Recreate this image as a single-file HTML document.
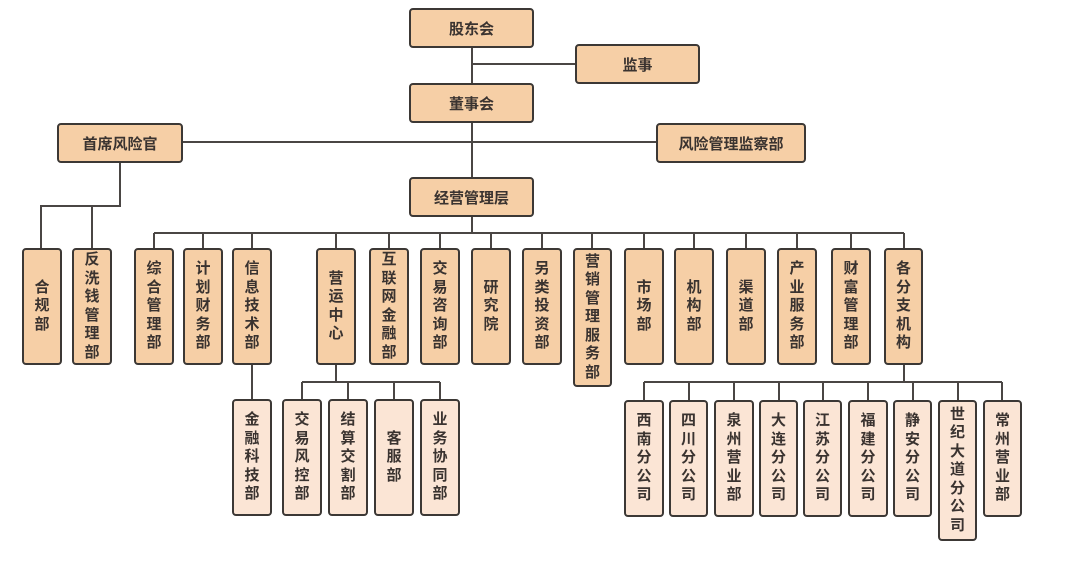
<!DOCTYPE html>
<html><head><meta charset="utf-8"><style>
body{margin:0;width:1082px;height:574px;background:#fff;position:relative;overflow:hidden;font-family:"Liberation Sans","Noto Sans CJK SC",sans-serif;}
.b{position:absolute;box-sizing:border-box;border:2px solid #3c3835;border-radius:4px;background:#f6cfa6;color:#3a3330;font-weight:bold;font-size:15px;display:flex;align-items:center;justify-content:center;text-align:center;}
.v{flex-direction:column;line-height:18.5px;font-size:15px;}
.s{background:#fbe5d5;}
svg{position:absolute;left:0;top:0;}
</style></head><body>
<svg width="1082" height="574"><g stroke="#4a4644" stroke-width="2" fill="none">
<path d="M472 48V177M472 64H575M183 142H656"/>
<path d="M120 163V206H41V248M92 206V248"/>
<path d="M154 233H904M154 233V248M203 233V248M252 233V248M336 233V248M389 233V248M440 233V248M491 233V248M542 233V248M592 233V248M644 233V248M694 233V248M746 233V248M797 233V248M851 233V248M904 233V248M472 217V233"/>
<path d="M252 365V399M336 365V382M302 382H440M302 382V399M348 382V399M394 382V399M440 382V399"/>
<path d="M904 365V382M644 382H1002M644 382V400M689 382V400M734 382V400M779 382V400M823 382V400M868 382V400M913 382V400M958 382V400M1002 382V400"/>
</g></svg>
<div class="b" style="left:409px;top:8px;width:125px;height:40px">股东会</div>
<div class="b" style="left:575px;top:44px;width:125px;height:40px">监事</div>
<div class="b" style="left:409px;top:83px;width:125px;height:40px">董事会</div>
<div class="b" style="left:57px;top:123px;width:126px;height:40px">首席风险官</div>
<div class="b" style="left:656px;top:123px;width:150px;height:40px">风险管理监察部</div>
<div class="b" style="left:409px;top:177px;width:125px;height:40px">经营管理层</div>

<div class="b v" style="left:22px;top:248px;width:40px;height:117px">合<br>规<br>部</div>
<div class="b v" style="left:72px;top:248px;width:40px;height:117px">反<br>洗<br>钱<br>管<br>理<br>部</div>
<div class="b v" style="left:134px;top:248px;width:40px;height:117px">综<br>合<br>管<br>理<br>部</div>
<div class="b v" style="left:183px;top:248px;width:40px;height:117px">计<br>划<br>财<br>务<br>部</div>
<div class="b v" style="left:232px;top:248px;width:40px;height:117px">信<br>息<br>技<br>术<br>部</div>
<div class="b v" style="left:316px;top:248px;width:40px;height:117px">营<br>运<br>中<br>心</div>
<div class="b v" style="left:369px;top:248px;width:40px;height:117px">互<br>联<br>网<br>金<br>融<br>部</div>
<div class="b v" style="left:420px;top:248px;width:40px;height:117px">交<br>易<br>咨<br>询<br>部</div>
<div class="b v" style="left:471px;top:248px;width:40px;height:117px">研<br>究<br>院</div>
<div class="b v" style="left:522px;top:248px;width:40px;height:117px">另<br>类<br>投<br>资<br>部</div>
<div class="b v" style="left:573px;top:248px;width:39px;height:139px">营<br>销<br>管<br>理<br>服<br>务<br>部</div>
<div class="b v" style="left:624px;top:248px;width:40px;height:117px">市<br>场<br>部</div>
<div class="b v" style="left:674px;top:248px;width:40px;height:117px">机<br>构<br>部</div>
<div class="b v" style="left:726px;top:248px;width:40px;height:117px">渠<br>道<br>部</div>
<div class="b v" style="left:777px;top:248px;width:40px;height:117px">产<br>业<br>服<br>务<br>部</div>
<div class="b v" style="left:831px;top:248px;width:40px;height:117px">财<br>富<br>管<br>理<br>部</div>
<div class="b v" style="left:884px;top:248px;width:39px;height:117px">各<br>分<br>支<br>机<br>构</div>

<div class="b v s" style="left:232px;top:399px;width:40px;height:117px">金<br>融<br>科<br>技<br>部</div>
<div class="b v s" style="left:282px;top:399px;width:40px;height:117px">交<br>易<br>风<br>控<br>部</div>
<div class="b v s" style="left:328px;top:399px;width:40px;height:117px">结<br>算<br>交<br>割<br>部</div>
<div class="b v s" style="left:374px;top:399px;width:40px;height:117px">客<br>服<br>部</div>
<div class="b v s" style="left:420px;top:399px;width:40px;height:117px">业<br>务<br>协<br>同<br>部</div>

<div class="b v s" style="left:624px;top:400px;width:40px;height:117px">西<br>南<br>分<br>公<br>司</div>
<div class="b v s" style="left:669px;top:400px;width:39px;height:117px">四<br>川<br>分<br>公<br>司</div>
<div class="b v s" style="left:714px;top:400px;width:40px;height:117px">泉<br>州<br>营<br>业<br>部</div>
<div class="b v s" style="left:759px;top:400px;width:39px;height:117px">大<br>连<br>分<br>公<br>司</div>
<div class="b v s" style="left:803px;top:400px;width:39px;height:117px">江<br>苏<br>分<br>公<br>司</div>
<div class="b v s" style="left:848px;top:400px;width:40px;height:117px">福<br>建<br>分<br>公<br>司</div>
<div class="b v s" style="left:893px;top:400px;width:39px;height:117px">静<br>安<br>分<br>公<br>司</div>
<div class="b v s" style="left:938px;top:400px;width:39px;height:141px">世<br>纪<br>大<br>道<br>分<br>公<br>司</div>
<div class="b v s" style="left:983px;top:400px;width:39px;height:117px">常<br>州<br>营<br>业<br>部</div>
</body></html>
